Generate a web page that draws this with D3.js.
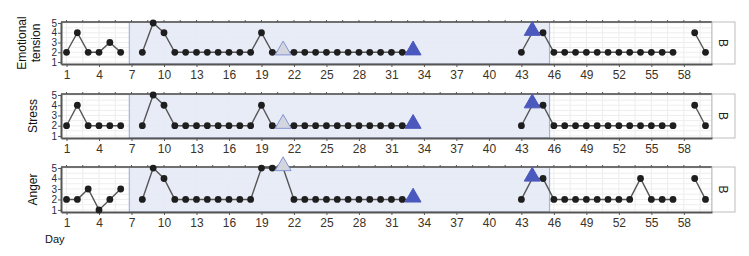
<!DOCTYPE html>
<html><head><meta charset="utf-8">
<script src="https://cdn.jsdelivr.net/npm/d3@7"></script>
<style>body{margin:0;background:#fff}svg{display:block;font-family:"Liberation Sans",Arial,sans-serif}</style>
</head><body><svg id="c" width="749" height="256"></svg>
<script>
const days = d3.range(1, 61);
const panels = ["Emotional tension", "Stress", "Anger"];
// null = missing day
const emotional = [2,4,2,2,3,2,null,2,5,4,2,2,2,2,2,2,2,2,4,2,2,2,2,2,2,2,2,2,2,2,2,2,2,null,null,null,null,null,null,null,null,null,2,4,4,2,2,2,2,2,2,2,2,2,2,2,2,null,4,2];
const stress    = [2,4,2,2,2,2,null,2,5,4,2,2,2,2,2,2,2,2,4,2,2,2,2,2,2,2,2,2,2,2,2,2,2,null,null,null,null,null,null,null,null,null,2,4,4,2,2,2,2,2,2,2,2,2,2,2,2,null,4,2];
const anger     = [2,2,3,1,2,3,null,2,5,4,2,2,2,2,2,2,2,2,5,5,5,2,2,2,2,2,2,2,2,2,2,2,2,null,null,null,null,null,null,null,null,null,2,4,4,2,2,2,2,2,2,2,2,4,2,2,2,null,4,2];
const seriesValues = [emotional, stress, anger];
const lightTriangleDay = 21;
const darkTriangleDays = [33, 44];
const phaseB = [6.8, 45.6];
const stripLabel = "B";
const xTicks = d3.range(1, 59, 3);
const yTicks = [1,2,3,4,5];

const svg = d3.select("#c");
const x = d3.scaleLinear().domain([0.49, 60.6]).range([61, 712]);
const frames = [[22,64],[94,138],[167,212]];
const ylabelLines = [["Emotional","tension"],["Stress"],["Anger"]];

panels.forEach((name, i) => {
  const [top, bot] = frames[i];
  const y = d3.scaleLinear().domain([0.8, 5.1]).range([bot, top]);
  const g = svg.append("g");
  g.append("rect").attr("x", x.range()[0]).attr("y", top).attr("width", x.range()[1]-x.range()[0]).attr("height", bot-top).attr("fill", "#fff");
  const gridX = d3.range(1, 61, 1.5);
  g.selectAll(".gx").data(gridX).join("line").attr("x1", d=>x(d)).attr("x2", d=>x(d)).attr("y1", top).attr("y2", bot).attr("stroke", "#ececec").attr("stroke-width", 1);
  g.selectAll(".gy").data(d3.range(1,5.01,0.5)).join("line").attr("x1", x.range()[0]).attr("x2", x.range()[1]).attr("y1", d=>y(d)).attr("y2", d=>y(d)).attr("stroke", "#eeeeee").attr("stroke-width", 1);
  g.append("rect").attr("x", x(phaseB[0])).attr("y", top).attr("width", x(phaseB[1])-x(phaseB[0])).attr("height", bot-top)
    .attr("fill", "#e6eaf6").attr("fill-opacity", 0.9).attr("stroke", "#a3b3db").attr("stroke-width", 1.2);
  g.append("line").attr("x1", x.range()[1]).attr("x2", x.range()[1]).attr("y1", top).attr("y2", bot).attr("stroke", "#bbb");
  g.append("line").attr("x1", x.range()[0]).attr("x2", x.range()[1]).attr("y1", top).attr("y2", top).attr("stroke", "#6f6f6f").attr("stroke-width", 2);
  g.selectAll(".tt").data(gridX).join("line").attr("x1", d=>x(d)).attr("x2", d=>x(d)).attr("y1", top-2).attr("y2", top).attr("stroke", "#555");
  g.append("rect").attr("x", 712).attr("y", top).attr("width", 23).attr("height", bot-top).attr("fill", "#fff").attr("stroke", "#bdbdbd");
  g.append("text").attr("transform", `translate(${723.5},${(top+bot)/2}) rotate(90)`).attr("text-anchor", "middle").attr("dy", "0.35em")
    .attr("font-size", 12).attr("fill", "#222").text(stripLabel);
  const xa = g.append("g").attr("transform", `translate(0,${bot})`).call(d3.axisBottom(x).tickValues(xTicks).tickSize(3).tickSizeOuter(0).tickPadding(3));
  xa.select(".domain").attr("stroke", "#555").attr("stroke-width", 2);
  xa.selectAll(".tick line").attr("stroke", "#555");
  xa.selectAll("text").attr("font-size", 12).attr("fill", "#3a3328").attr("font-family", "Liberation Sans, Arial, sans-serif");
  const ya = g.append("g").attr("transform", `translate(${x.range()[0]},0)`).call(d3.axisLeft(y).tickValues(yTicks).tickFormat(d3.format("d")).tickSize(3).tickSizeOuter(0).tickPadding(1));
  ya.select(".domain").attr("stroke", "#555").attr("stroke-width", 2);
  ya.selectAll(".tick line").attr("stroke", "#555");
  ya.selectAll("text").attr("font-size", 10).attr("fill", "#2a2a40").attr("font-family", "Liberation Sans, Arial, sans-serif");
  const lines = ylabelLines[i];
  const cy = (top+bot)/2;
  lines.forEach((t, k) => {
    const lx = lines.length === 2 ? 22 + k*14 : 33;
    g.append("text").attr("transform", `translate(${lx},${cy}) rotate(-90)`).attr("text-anchor", "middle").attr("dy", "0.35em")
      .attr("font-size", 12).attr("fill", "#111").text(t);
  });
  const vals = seriesValues[i];
  const pts = days.map((d, j) => ({d, v: vals[j]}));
  const line = d3.line().defined(p => p.v !== null).x(p => x(p.d)).y(p => y(p.v));
  g.append("path").datum(pts).attr("d", line).attr("fill", "none").attr("stroke", "#555").attr("stroke-width", 1.4);
  const dots = pts.filter(p => p.v !== null && p.d !== lightTriangleDay && !darkTriangleDays.includes(p.d));
  g.selectAll(".dot").data(dots).join("circle").attr("cx", p=>x(p.d)).attr("cy", p=>y(p.v)).attr("r", 3.4).attr("fill", "#1e1e1e");
  const tri = d3.symbol().type(d3.symbolTriangle).size(110);
  const triPts = pts.filter(p => p.d === lightTriangleDay || darkTriangleDays.includes(p.d));
  g.selectAll(".tri").data(triPts).join("path").attr("d", tri)
    .attr("transform", p => `translate(${x(p.d)},${y(p.v)-2})`)
    .attr("fill", p => p.d === lightTriangleDay ? "#d3d6df" : "#4b58bd")
    .attr("stroke", p => p.d === lightTriangleDay ? "#8593d2" : "#4b58bd").attr("stroke-width", 1);
});
svg.append("text").attr("x", 45).attr("y", 243).attr("font-size", 11).attr("fill", "#111").text("Day");
</script></body></html>
